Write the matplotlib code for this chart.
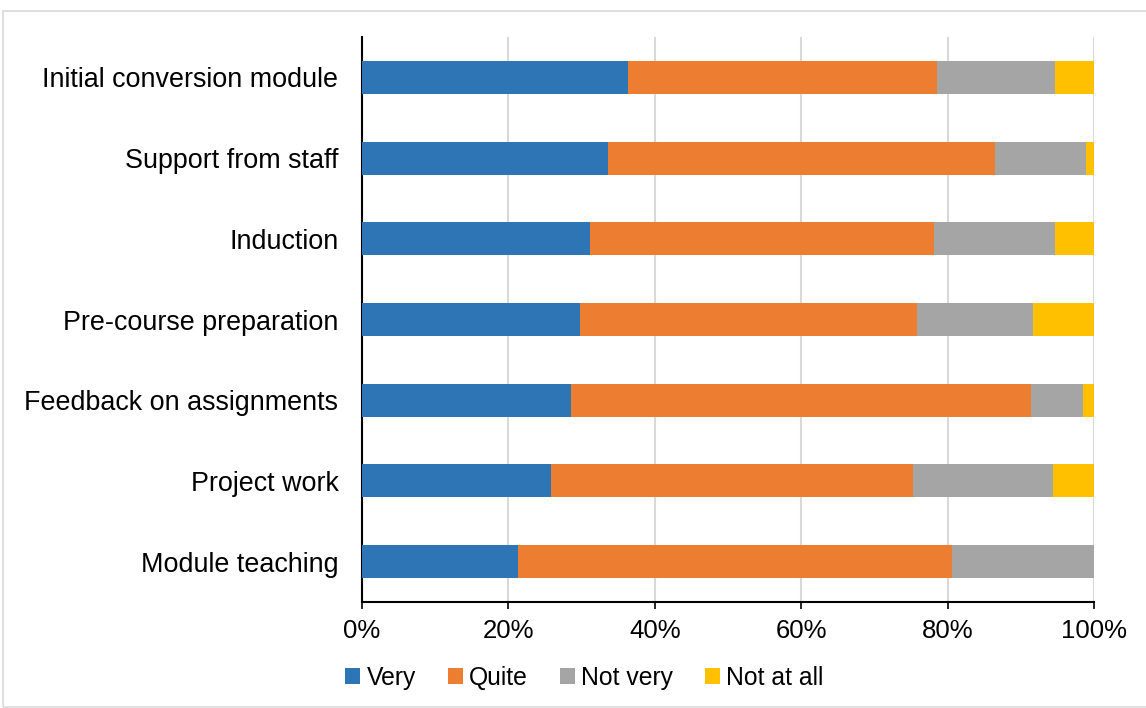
import matplotlib.pyplot as plt
from matplotlib.patches import Rectangle

plt.rcParams['font.family'] = ['Liberation Sans', 'DejaVu Sans']

# categories listed bottom to top
categories = ['Module teaching', 'Project work', 'Feedback on assignments',
              'Pre-course preparation', 'Induction', 'Support from staff',
              'Initial conversion module']
very = [21.3, 25.8, 28.6, 29.8, 31.1, 33.6, 36.3]
quite = [59.3, 49.5, 62.8, 46.0, 47.1, 52.9, 42.2]
not_very = [19.4, 19.1, 7.1, 15.8, 16.5, 12.4, 16.2]
not_at_all = [0.0, 5.6, 1.5, 8.4, 5.3, 1.1, 5.3]

series = [('Very', very, '#2e75b6'), ('Quite', quite, '#ed7d31'),
          ('Not very', not_very, '#a5a5a5'), ('Not at all', not_at_all, '#ffc000')]

fig = plt.figure(figsize=(11.46, 7.08), dpi=100)
ax = fig.add_axes([362 / 1146, 1 - 602 / 708, 732 / 1146, 565 / 708])

y = range(len(categories))
left = [0] * len(categories)
for name, vals, col in series:
    ax.barh(y, vals, left=left, height=0.41, color=col, label=name, zorder=3)
    left = [l + v for l, v in zip(left, vals)]

ax.set_xlim(0, 100)
ax.set_ylim(-0.5, len(categories) - 0.5)
ax.set_xticks(range(0, 101, 20))
ax.set_xticklabels([f'{t}%' for t in range(0, 101, 20)], fontsize=18.5)
ax.set_yticks(list(y))
ax.set_yticklabels(categories, fontsize=19.4)
ax.tick_params(axis='y', length=0, pad=17)
ax.tick_params(axis='x', length=5, width=1.2, direction='out', pad=7)
ax.grid(axis='x', color='#d9d9d9', linewidth=1.5, zorder=0)
for s in ['top', 'right']:
    ax.spines[s].set_visible(False)
for s in ['left', 'bottom']:
    ax.spines[s].set_linewidth(1.5)
    ax.spines[s].set_color('black')

fig.legend(loc='center', bbox_to_anchor=(0.51, 1 - 678 / 708), ncol=4, frameon=False,
           fontsize=17.8, handlelength=0.6, handleheight=0.6, handletextpad=0.25,
           columnspacing=1.3)

fig.patches.append(Rectangle((3 / 1146, 0.002), 1.2, 1 - 12 / 708, transform=fig.transFigure,
                             fill=False, edgecolor='#d9d9d9', linewidth=1.2))

fig.savefig('out.png', dpi=100)
